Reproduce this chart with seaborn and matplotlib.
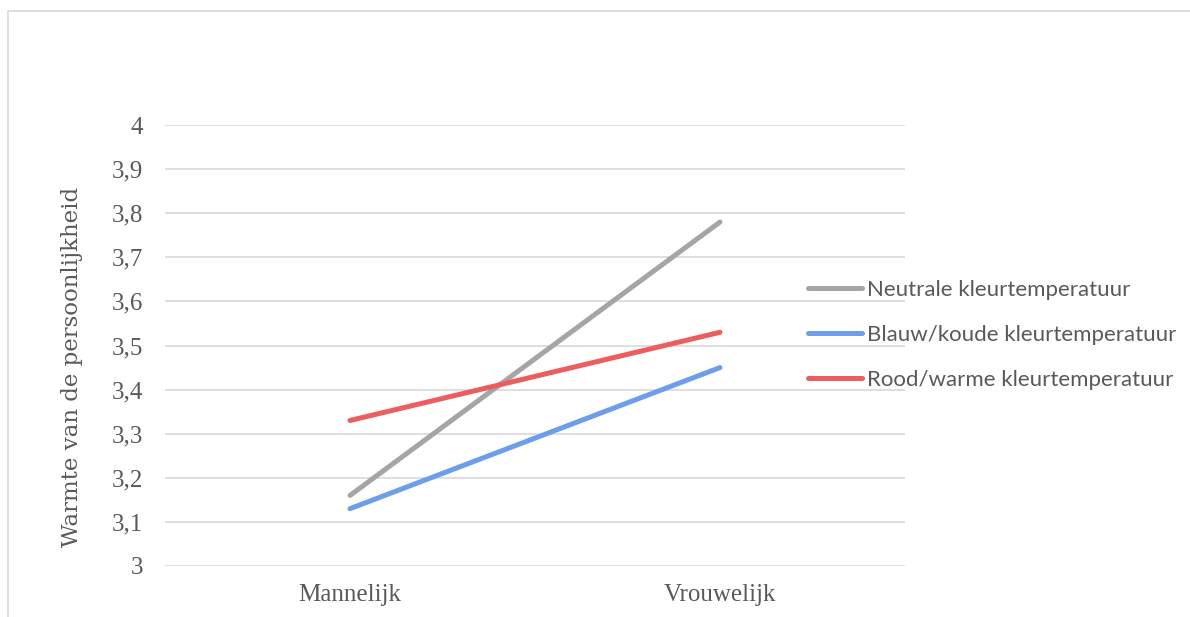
import matplotlib
matplotlib.use("Agg")
import matplotlib.pyplot as plt
import seaborn as sns
import pandas as pd
from matplotlib.patches import Rectangle

categories = ["Mannelijk", "Vrouwelijk"]
series_names = ["Neutrale kleurtemperatuur", "Blauw/koude kleurtemperatuur", "Rood/warme kleurtemperatuur"]
neutrale = [3.16, 3.78]
blauw = [3.13, 3.45]
rood = [3.33, 3.53]
y_ticks = [3.0, 3.1, 3.2, 3.3, 3.4, 3.5, 3.6, 3.7, 3.8, 3.9, 4.0]
y_tick_labels = ["3", "3,1", "3,2", "3,3", "3,4", "3,5", "3,6", "3,7", "3,8", "3,9", "4"]
colors = ["#A5A5A5", "#6D9EEB", "#EE5D5D"]

rows = []
for name, vals in zip(series_names, [neutrale, blauw, rood]):
    for c, v in zip(categories, vals):
        rows.append({"Geslacht": c, "Waarde": v, "Reeks": name})
df = pd.DataFrame(rows)

sns.set_theme(style="white")
plt.rcParams["font.family"] = ["Liberation Serif", "DejaVu Serif"]

fig = plt.figure(figsize=(11.9, 6.17), dpi=100)
ax = fig.add_axes([165/1190, 1-566/617, (905-165)/1190, (566-125)/617])

sns.lineplot(data=df, x="Geslacht", y="Waarde", hue="Reeks", hue_order=series_names,
             palette=colors, linewidth=3.6, ax=ax, sort=False, legend=True)
for line in ax.lines:
    line.set_solid_capstyle("round")

ax.set_xlim(-0.5, 1.5)
ax.set_ylim(3.0, 4.0)
ax.set_yticks(y_ticks)
ax.set_yticklabels(y_tick_labels)
ax.grid(axis="y", color="#D9D9D9", linewidth=1.2)
ax.set_axisbelow(True)
for s in ax.spines.values():
    s.set_visible(False)
ax.tick_params(axis="both", length=0, labelsize=18, colors="#595959")
ax.tick_params(axis="y", pad=16)
ax.tick_params(axis="x", pad=13)
ax.set_xlabel("")
ax.set_ylabel("")

fig.text(72/1190, 1-367/617, "Warmte van de persoonlijkheid", rotation=90,
         ha="center", va="center", fontsize=16.5, color="#595959",
         family=["DejaVu Serif"])

handles, labels = ax.get_legend_handles_labels()
leg = ax.legend(handles, labels, loc="center left", bbox_to_anchor=(808/1190, 1-335/617),
                bbox_transform=fig.transFigure, frameon=False, handlelength=2.45,
                handletextpad=0.22, labelspacing=1.12, borderpad=0, borderaxespad=0,
                prop={"family": "Lato", "size": 16})
for t in leg.get_texts():
    t.set_color("#595959")
for h in leg.get_lines():
    h.set_linewidth(3.6)
    h.set_solid_capstyle("round")

fig.patches.append(Rectangle((8/1190, -0.1), 1.0, 1-11/617+0.1, transform=fig.transFigure,
                             fill=False, edgecolor="#D9D9D9", linewidth=1.2, zorder=-1))

fig.savefig("out.png", dpi=100)
